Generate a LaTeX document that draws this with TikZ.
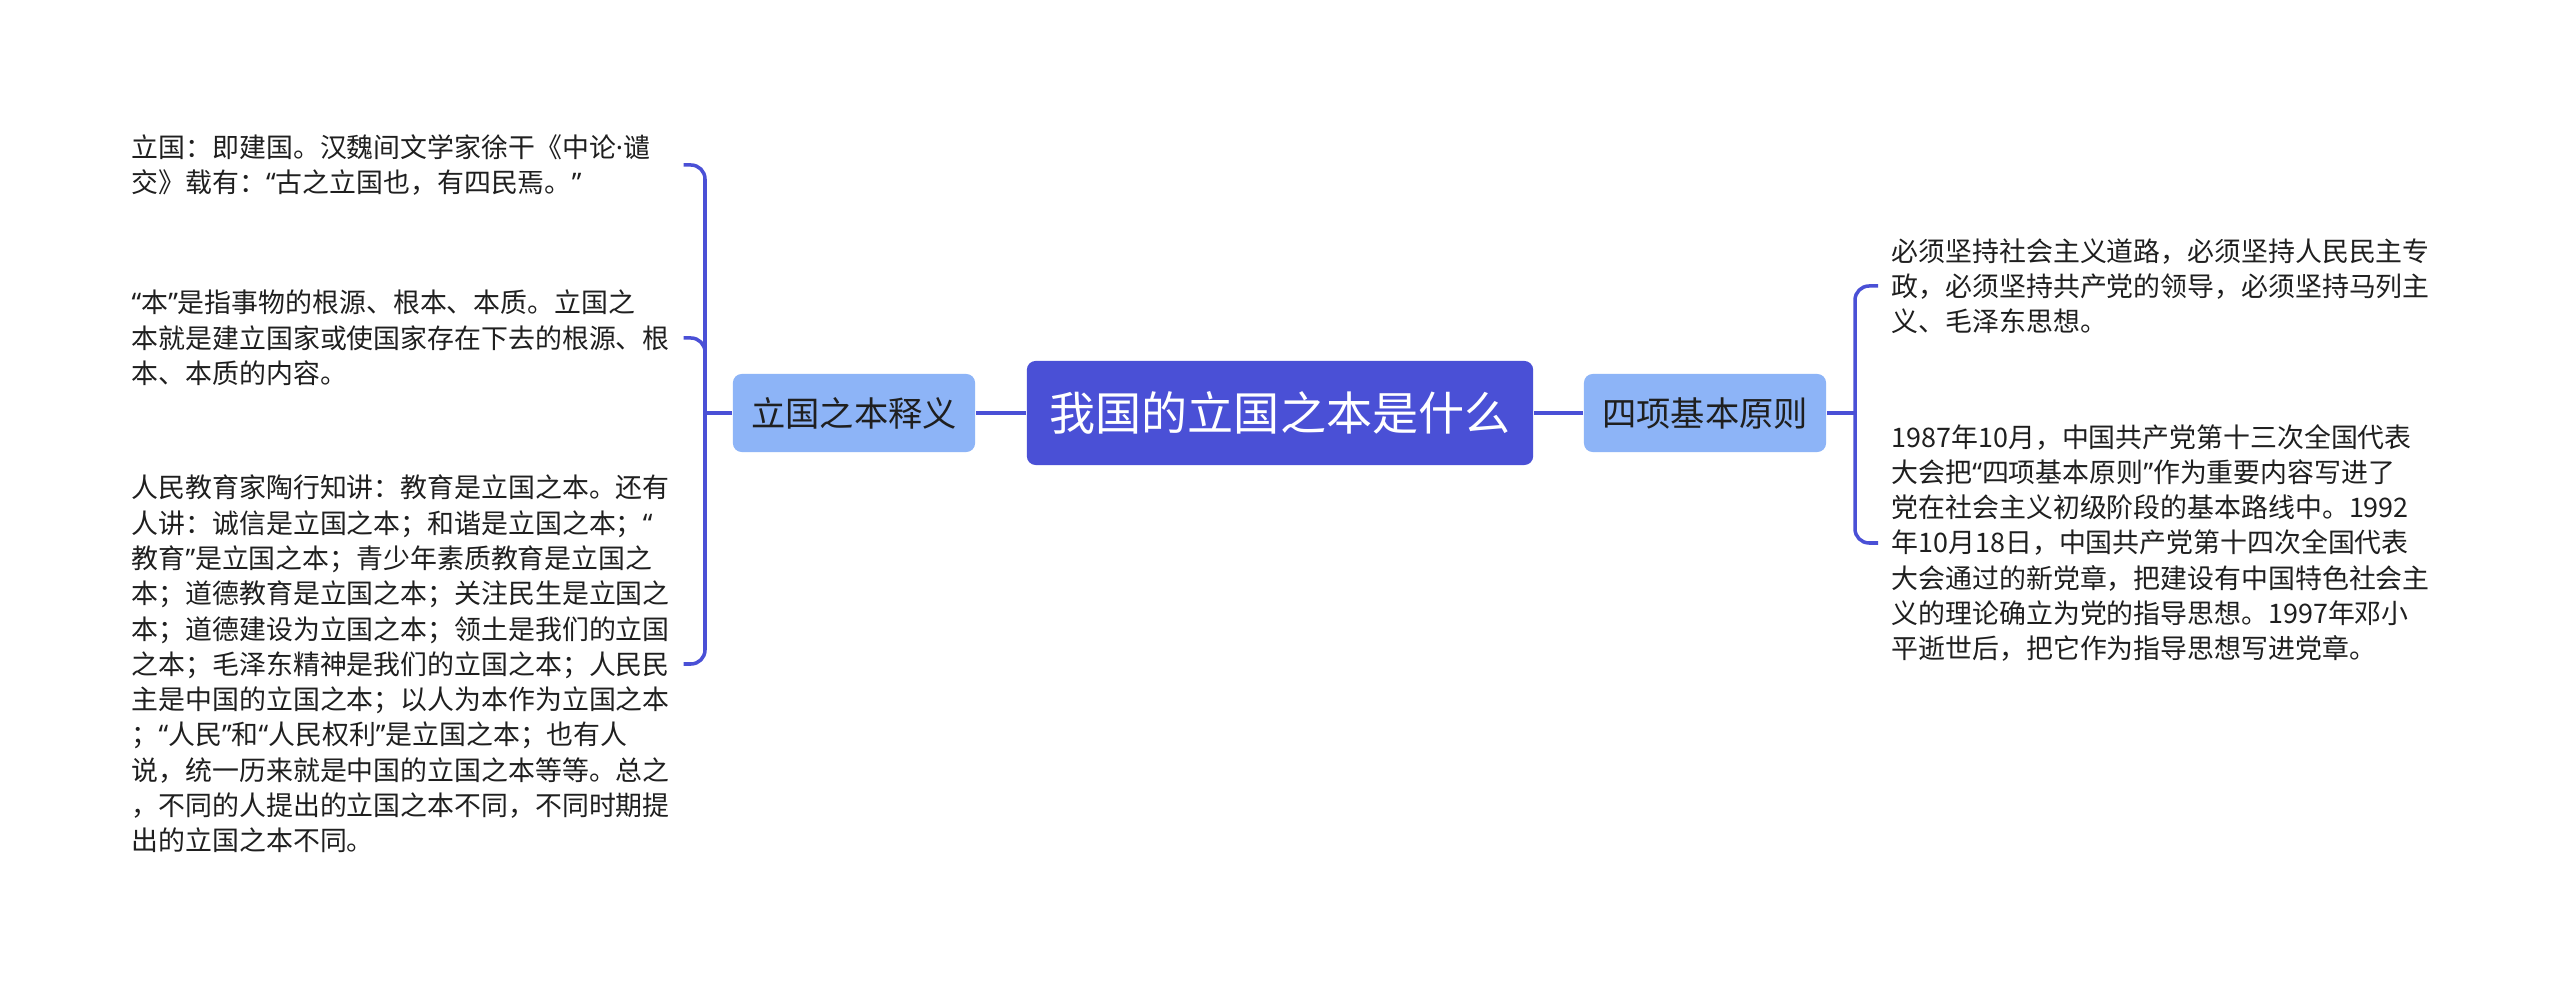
\documentclass[tikz,border=0pt]{standalone}
\usepackage{fontspec}
\setmainfont{Noto Sans CJK SC}
\newfontfamily\quotefont{Noto Sans}
\usepackage{tikz}

\definecolor{rootblue}{HTML}{4A50D6}
\definecolor{subblue}{HTML}{8DB4F7}
\definecolor{leafgray}{HTML}{1F1F1F}
\newcommand\leafsize{\fontsize{7.65pt}{10.03pt}\selectfont}
\newcommand\openq{{\quotefont “}}
\newcommand\closeq{{\quotefont ”}}
\newcommand\middot{{\quotefont ·}}

\begin{document}
\begin{tikzpicture}[x=0.01cm, y=-0.01cm,
    root/.style={fill=rootblue, rounded corners=2.5pt, minimum width=5.06cm, minimum height=1.04cm, inner sep=0pt, text=white, font=\fontsize{13.1pt}{15pt}\selectfont},
    topic/.style={fill=subblue, rounded corners=2.5pt, minimum width=2.42cm, minimum height=0.78cm, inner sep=0pt, text=leafgray, font=\fontsize{9.75pt}{12pt}\selectfont},
    leftleaf/.style={anchor=west, inner xsep=0.12cm, inner ysep=0pt, text width=5.39cm, align=left, text=leafgray, font=\leafsize},
    rightleaf/.style={anchor=west, inner xsep=0.13cm, inner ysep=0pt, text width=5.45cm, align=left, text=leafgray, font=\leafsize},
    link/.style={draw=rootblue, line width=1pt},
    brace/.style={link, rounded corners=4pt},
]
  \fill[white] (0,0) rectangle (2560,983);
  \useasboundingbox (0,0) rectangle (2560,983);

  \node[root] (root) at (1280,413) {我国的立国之本是什么};
  \node[topic] (lsub) at (854,413) {立国之本释义};
  \node[topic] (rsub) at (1705,413) {四项基本原则};

  \node[leftleaf] (lt1) at (119,165) {立国：即建国。汉魏间文学家徐干《中论\middot 谴\\交》载有：\openq 古之立国也，有四民焉。\closeq};
  \node[leftleaf] (lt2) at (119,338) {\openq 本\closeq 是指事物的根源、根本、本质。立国之\\本就是建立国家或使国家存在下去的根源、根\\本、本质的内容。};
  \node[leftleaf] (lt3) at (119,664) {人民教育家陶行知讲：教育是立国之本。还有\\人讲：诚信是立国之本；和谐是立国之本；\openq\\教育\closeq 是立国之本；青少年素质教育是立国之\\本；道德教育是立国之本；关注民生是立国之\\本；道德建设为立国之本；领土是我们的立国\\之本；毛泽东精神是我们的立国之本；人民民\\主是中国的立国之本；以人为本作为立国之本\\；\openq 人民\closeq 和\openq 人民权利\closeq 是立国之本；也有人\\说，统一历来就是中国的立国之本等等。总之\\，不同的人提出的立国之本不同，不同时期提\\出的立国之本不同。};

  \node[rightleaf] (rt1) at (1878,286) {必须坚持社会主义道路，必须坚持人民民主专\\政，必须坚持共产党的领导，必须坚持马列主\\义、毛泽东思想。};
  \node[rightleaf] (rt2) at (1878,543) {1987年10月，中国共产党第十三次全国代表\\大会把\openq 四项基本原则\closeq 作为重要内容写进了\\党在社会主义初级阶段的基本路线中。1992\\年10月18日，中国共产党第十四次全国代表\\大会通过的新党章，把建设有中国特色社会主\\义的理论确立为党的指导思想。1997年邓小\\平逝世后，把它作为指导思想写进党章。};

  \coordinate (ljoin) at (705,413);
  \coordinate (rjoin) at (1855,413);

  \draw[link] (root.west) -- (lsub.east);
  \draw[link] (root.east) -- (rsub.west);
  \draw[link] (lsub.west) -- (ljoin);
  \draw[link] (rsub.east) -- (rjoin);

  \draw[brace] (ljoin) |- (lt1.east);
  \draw[brace] (ljoin) |- (lt2.east);
  \draw[brace] (ljoin) |- (lt3.east);
  \draw[brace] (rjoin) |- (rt1.west);
  \draw[brace] (rjoin) |- (rt2.west);
\end{tikzpicture}
\end{document}
